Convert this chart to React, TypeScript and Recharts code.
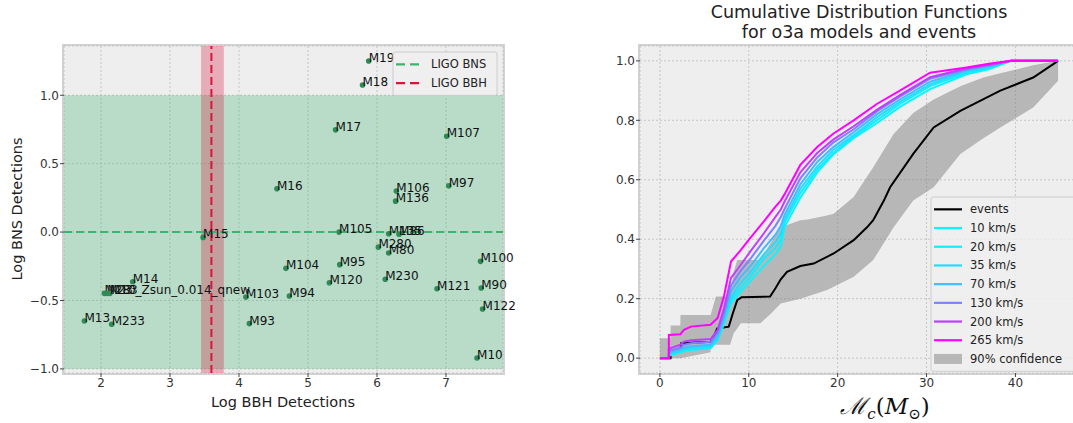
import {
  ComposedChart,
  Scatter,
  Line,
  Area,
  XAxis,
  YAxis,
  CartesianGrid,
  ReferenceArea,
  ReferenceLine,
} from "recharts";

const FONT = "'DejaVu Sans', sans-serif";

// ---- left panel: detections per model ----
const modelNames = [
  "M19", "M18", "M17", "M107", "M16", "M106", "M136", "M97",
  "M15", "M105", "M135", "M86", "M280", "M80", "M104", "M95",
  "M120", "M230", "M100", "M121", "M90", "M122", "M10", "M103",
  "M94", "M93", "M13", "M233", "M14", "M283", "M23", "M10_Zsun_0.014_qnew",
];
const logBBH = [
  5.88, 5.79, 5.4, 7.01, 4.55, 6.28, 6.27, 7.04,
  3.48, 5.45, 6.17, 6.32, 6.02, 6.17, 4.68, 5.46,
  5.31, 6.12, 7.5, 6.87, 7.51, 7.53, 7.45, 4.1,
  4.73, 4.15, 1.76, 2.155, 2.46, 2.05, 2.09, 2.13,
];
const logBNS = [
  1.25, 1.075, 0.747, 0.7, 0.316, 0.3, 0.226, 0.338,
  -0.039, 0.0, -0.012, -0.015, -0.11, -0.153, -0.265, -0.238,
  -0.37, -0.345, -0.214, -0.414, -0.409, -0.562, -0.92, -0.474,
  -0.467, -0.669, -0.65, -0.674, -0.363, -0.448, -0.448, -0.448,
];

const ligoBNS = 0;
const ligoBNSRange = [-1, 1];
const ligoBBH = 3.6;
const ligoBBHRange = [3.45, 3.78];

const leftXTicks = [2, 3, 4, 5, 6, 7];
const leftYTicks = [-1, -0.5, 0, 0.5, 1];

// ---- right panel: cumulative distributions ----
const mcGrid = [
  0, 1, 1.01, 2.3, 2.7, 3.5, 5.7, 6.5, 7.2, 8.0, 9.0, 10.2, 11.7, 13.0,
  13.6, 14.0, 15.8, 17.7, 19.5, 21.8, 24.4, 27.0, 30.4, 34.5, 37.0, 39.5, 44.8,
];
const cdf10 = [0, 0, 0.008, 0.02, 0.023, 0.027, 0.033, 0.06, 0.115, 0.185, 0.22, 0.26, 0.31, 0.35, 0.375, 0.44, 0.54, 0.625, 0.685, 0.74, 0.79, 0.845, 0.905, 0.955, 0.972, 1.0, 1.0];
const cdf20 = [0, 0, 0.01, 0.022, 0.026, 0.03, 0.036, 0.064, 0.12, 0.195, 0.235, 0.275, 0.335, 0.37, 0.4, 0.455, 0.555, 0.635, 0.69, 0.745, 0.8, 0.855, 0.915, 0.96, 0.976, 1.0, 1.0];
const cdf35 = [0, 0, 0.015, 0.025, 0.03, 0.035, 0.04, 0.068, 0.125, 0.205, 0.25, 0.29, 0.35, 0.39, 0.42, 0.465, 0.57, 0.645, 0.7, 0.75, 0.81, 0.862, 0.922, 0.965, 0.979, 1.0, 1.0];
const cdf70 = [0, 0, 0.02, 0.03, 0.035, 0.04, 0.045, 0.075, 0.135, 0.225, 0.27, 0.31, 0.37, 0.415, 0.445, 0.48, 0.585, 0.66, 0.71, 0.76, 0.82, 0.87, 0.93, 0.968, 0.982, 1.0, 1.0];
const cdf130 = [0, 0, 0.025, 0.035, 0.045, 0.05, 0.055, 0.085, 0.15, 0.245, 0.29, 0.335, 0.395, 0.445, 0.475, 0.5, 0.605, 0.675, 0.725, 0.77, 0.83, 0.88, 0.94, 0.972, 0.985, 1.0, 1.0];
const cdf200 = [0, 0, 0.032, 0.045, 0.055, 0.06, 0.064, 0.095, 0.165, 0.27, 0.31, 0.36, 0.42, 0.475, 0.5, 0.525, 0.625, 0.69, 0.735, 0.78, 0.835, 0.885, 0.945, 0.975, 0.987, 1.0, 1.0];
const cdf265 = [0, 0, 0.078, 0.08, 0.095, 0.106, 0.112, 0.135, 0.207, 0.325, 0.36, 0.405, 0.46, 0.51, 0.53, 0.55, 0.65, 0.71, 0.755, 0.8, 0.855, 0.9, 0.96, 0.978, 0.99, 1.0, 1.0];

const speedLabels = ["10 km/s", "20 km/s", "35 km/s", "70 km/s", "130 km/s", "200 km/s", "265 km/s"];
const speedKeys = ["v10", "v20", "v35", "v70", "v130", "v200", "v265"];
const speedColors = ["#0af5ff", "#14ebff", "#22ddff", "#43bcff", "#7d82ff", "#c03fff", "#ff00ff"];
const speedSeries = [cdf10, cdf20, cdf35, cdf70, cdf130, cdf200, cdf265];

const eventMc = [1.0, 1.2, 1.21, 2.3, 2.4, 5.7, 6.1, 6.45, 7.75, 8.2, 8.7, 9.2, 12.4, 13.0, 13.6, 14.3, 15.8, 17.3, 19.55, 21.8, 23.3, 24.0, 25.2, 25.9, 28.5, 30.8, 33.8, 38.3, 42.0, 44.8];
const eventCdf = [0, 0, 0.025, 0.028, 0.05, 0.055, 0.075, 0.1, 0.106, 0.15, 0.195, 0.205, 0.207, 0.235, 0.265, 0.29, 0.31, 0.318, 0.352, 0.397, 0.44, 0.464, 0.53, 0.575, 0.687, 0.776, 0.832, 0.9, 0.944, 1.0];

const bandMc = [0, 1.2, 1.21, 2.3, 2.31, 5.7, 5.71, 6.3, 7.9, 8.3, 8.7, 9.1, 11.3, 12.5, 13.6, 15.8, 16.6, 18.8, 19.55, 21.8, 24.0, 26.3, 28.5, 30.8, 33.8, 36.4, 38.3, 40.2, 42.0, 44.8];
const bandLow = [0, 0, 0, 0, 0, 0.02, 0.045, 0.045, 0.045, 0.084, 0.1, 0.117, 0.117, 0.15, 0.184, 0.2, 0.207, 0.229, 0.24, 0.274, 0.33, 0.44, 0.53, 0.575, 0.687, 0.74, 0.776, 0.81, 0.843, 0.933];
const bandHigh = [0.067, 0.067, 0.11, 0.11, 0.145, 0.145, 0.145, 0.207, 0.207, 0.29, 0.33, 0.33, 0.33, 0.39, 0.44, 0.464, 0.466, 0.48, 0.486, 0.542, 0.642, 0.754, 0.825, 0.87, 0.915, 0.944, 0.958, 0.972, 0.985, 1.0];

const rightXTicks = [0, 10, 20, 30, 40];
const rightYTicks = [0, 0.2, 0.4, 0.6, 0.8, 1.0];

const scatterData = modelNames.map((name, i) => ({ name, x: logBBH[i], y: logBNS[i] }));
const cdfData = mcGrid.map((x, i) => {
  const row: Record<string, number> = { x };
  speedKeys.forEach((k, j) => (row[k] = speedSeries[j][i]));
  return row;
});
const eventData = eventMc.map((x, i) => ({ x, cdf: eventCdf[i] }));
const bandData = bandMc.map((x, i) => ({ x, range: [bandLow[i], bandHigh[i]] }));

const fmt = (v: number) => v.toFixed(1).replace("-", "\u2212");
const tickStyle = { fontSize: 12, fill: "#333", fontFamily: FONT };

const PointWithName = (props: any) => {
  const { cx, cy, payload } = props;
  return (
    <g>
      <circle cx={cx} cy={cy} r={2.8} fill="#2e8b57" />
      <text x={cx} y={cy + 1} fontSize={12} fill="#111" fontFamily={FONT}>
        {payload.name}
      </text>
    </g>
  );
};

// axes frame, drawn under the chart so labels sit on top of it
const Frame = ({ left, top, width, height }: any) => (
  <div
    style={{
      position: "absolute",
      left,
      top,
      width,
      height,
      border: "2px solid #d2d2d2",
      boxSizing: "border-box",
      pointerEvents: "none",
    }}
  />
);

type LegendItem = { label: string; color: string; dashed?: boolean; patch?: boolean };

const LegendBox = ({ left, top, width, items, row }: { left: number; top: number; width: number; items: LegendItem[]; row: number }) => {
  const height = items.length * row + 6;
  return (
    <svg style={{ position: "absolute", left, top }} width={width + 2} height={height + 2}>
      <rect x={1} y={1} width={width} height={height} rx={2} fill="rgba(238,238,238,0.85)" stroke="#cccccc" />
      {items.map((it, i) => {
        const cy = 1 + 3 + row * i + row / 2;
        return (
          <g key={it.label}>
            {it.patch ? (
              <rect x={4} y={cy - 5} width={28} height={10} fill="#808080" fillOpacity={0.5} />
            ) : (
              <line
                x1={4}
                x2={it.dashed ? 27 : 32}
                y1={cy}
                y2={cy}
                stroke={it.color}
                strokeWidth={2.2}
                strokeDasharray={it.dashed ? "9 5" : undefined}
              />
            )}
            <text x={it.dashed ? 39 : 40} y={cy + 4} fontSize={11.5} fill="#222" fontFamily={FONT}>
              {it.label}
            </text>
          </g>
        );
      })}
    </svg>
  );
};

export default function App() {
  return (
    <div
      style={{
        position: "fixed",
        left: 0,
        top: 0,
        width: 1073,
        height: 423,
        overflow: "hidden",
        background: "#fff",
        fontFamily: FONT,
      }}
    >
      {/* left panel */}
      <Frame left={62} top={44} width={443} height={331} />
      <div style={{ position: "absolute", left: 0, top: 0 }}>
        <ComposedChart
          width={560}
          height={423}
          data={scatterData}
          margin={{ top: 46, right: 57, bottom: 20, left: 8 }}
        >
          <CartesianGrid fill="#eeeeee" stroke="#bdbdbd" strokeDasharray="2 2" strokeWidth={0.8} />
          <XAxis
            type="number"
            dataKey="x"
            domain={[1.464, 7.826]}
            ticks={leftXTicks}
            axisLine={false}
            tickSize={4}
            tickMargin={1}
            tickLine={{ stroke: "#444" }}
            tick={tickStyle}
            height={30}
          />
          <YAxis
            type="number"
            dataKey="y"
            domain={[-1.03, 1.36]}
            ticks={leftYTicks}
            axisLine={false}
            tickSize={4}
            tickMargin={1}
            tickLine={{ stroke: "#444" }}
            tick={tickStyle}
            tickFormatter={fmt}
            width={56}
          />
          <ReferenceArea y1={ligoBNSRange[0]} y2={ligoBNSRange[1]} fill="#3cb371" fillOpacity={0.3} stroke="none" />
          <ReferenceArea x1={ligoBBHRange[0]} x2={ligoBBHRange[1]} fill="#dc143c" fillOpacity={0.3} stroke="none" />
          <ReferenceLine y={ligoBNS} stroke="#3cb371" strokeWidth={2} strokeDasharray="8 4" />
          <ReferenceLine x={ligoBBH} stroke="#dc143c" strokeWidth={2} strokeDasharray="8 4" />
          <Scatter dataKey="y" isAnimationActive={false} shape={PointWithName} />
        </ComposedChart>
      </div>
      <LegendBox
        left={392}
        top={51}
        width={104}
        row={18.7}
        items={[
          { label: "LIGO BNS", color: "#3cb371", dashed: true },
          { label: "LIGO BBH", color: "#dc143c", dashed: true },
        ]}
      />
      <div
        style={{
          position: "absolute",
          left: 17,
          top: 209,
          transform: "translate(-50%, -50%) rotate(-90deg)",
          fontSize: 14.5,
          color: "#222",
          whiteSpace: "nowrap",
        }}
      >
        Log BNS Detections
      </div>
      <div
        style={{
          position: "absolute",
          left: 283,
          top: 402,
          transform: "translate(-50%, -50%)",
          fontSize: 14.5,
          color: "#222",
          whiteSpace: "nowrap",
        }}
      >
        Log BBH Detections
      </div>

      {/* right panel */}
      <div
        style={{
          position: "absolute",
          left: 859,
          top: 22,
          transform: "translate(-50%, -50%)",
          fontSize: 17.5,
          lineHeight: "19.5px",
          color: "#222",
          textAlign: "center",
          whiteSpace: "nowrap",
        }}
      >
        Cumulative Distribution Functions
        <br />
        for o3a models and events
      </div>
      <Frame left={638} top={44} width={443} height={331} />
      <div style={{ position: "absolute", left: 560, top: 0 }}>
        <ComposedChart
          width={540}
          height={423}
          data={cdfData}
          margin={{ top: 46, right: 22, bottom: 20, left: 40 }}
        >
          <CartesianGrid fill="#eeeeee" stroke="#bdbdbd" strokeDasharray="2 2" strokeWidth={0.8} />
          <XAxis
            type="number"
            dataKey="x"
            domain={[-2.24, 47.04]}
            ticks={rightXTicks}
            allowDataOverflow
            axisLine={false}
            tickSize={4}
            tickMargin={1}
            tickLine={{ stroke: "#444" }}
            tick={tickStyle}
            height={30}
          />
          <YAxis
            type="number"
            domain={[-0.05, 1.05]}
            ticks={rightYTicks}
            allowDataOverflow
            axisLine={false}
            tickSize={4}
            tickMargin={1}
            tickLine={{ stroke: "#444" }}
            tick={tickStyle}
            tickFormatter={fmt}
            width={40}
          />
          <Area
            data={bandData}
            dataKey="range"
            type="linear"
            fill="#808080"
            fillOpacity={0.5}
            stroke="none"
            isAnimationActive={false}
            dot={false}
            activeDot={false}
          />
          <Line
            data={eventData}
            dataKey="cdf"
            type="linear"
            stroke="#000"
            strokeWidth={2}
            dot={false}
            activeDot={false}
            isAnimationActive={false}
          />
          {speedKeys.map((k, j) => (
            <Line
              key={k}
              dataKey={k}
              type="linear"
              stroke={speedColors[j]}
              strokeWidth={2}
              dot={false}
              activeDot={false}
              isAnimationActive={false}
            />
          ))}
        </ComposedChart>
      </div>
      <LegendBox
        left={930}
        top={196}
        width={150}
        row={18.7}
        items={[
          { label: "events", color: "#000" },
          ...speedLabels.map((label, j) => ({ label, color: speedColors[j] })),
          { label: "90% confidence", color: "#808080", patch: true },
        ]}
      />
      <div
        style={{
          position: "absolute",
          left: 885,
          top: 406,
          transform: "translate(-50%, -50%)",
          fontSize: 23,
          color: "#111",
          whiteSpace: "nowrap",
          fontFamily: "'DejaVu Serif', serif",
        }}
      >
        <span style={{ fontStyle: "italic" }}>{"\u2133"}</span>
        <sub style={{ fontSize: 15, fontStyle: "italic" }}>c</sub>
        (<span style={{ fontStyle: "italic" }}>M</span>
        <sub style={{ fontSize: 15 }}>{"\u2299"}</sub>)
      </div>
    </div>
  );
}
